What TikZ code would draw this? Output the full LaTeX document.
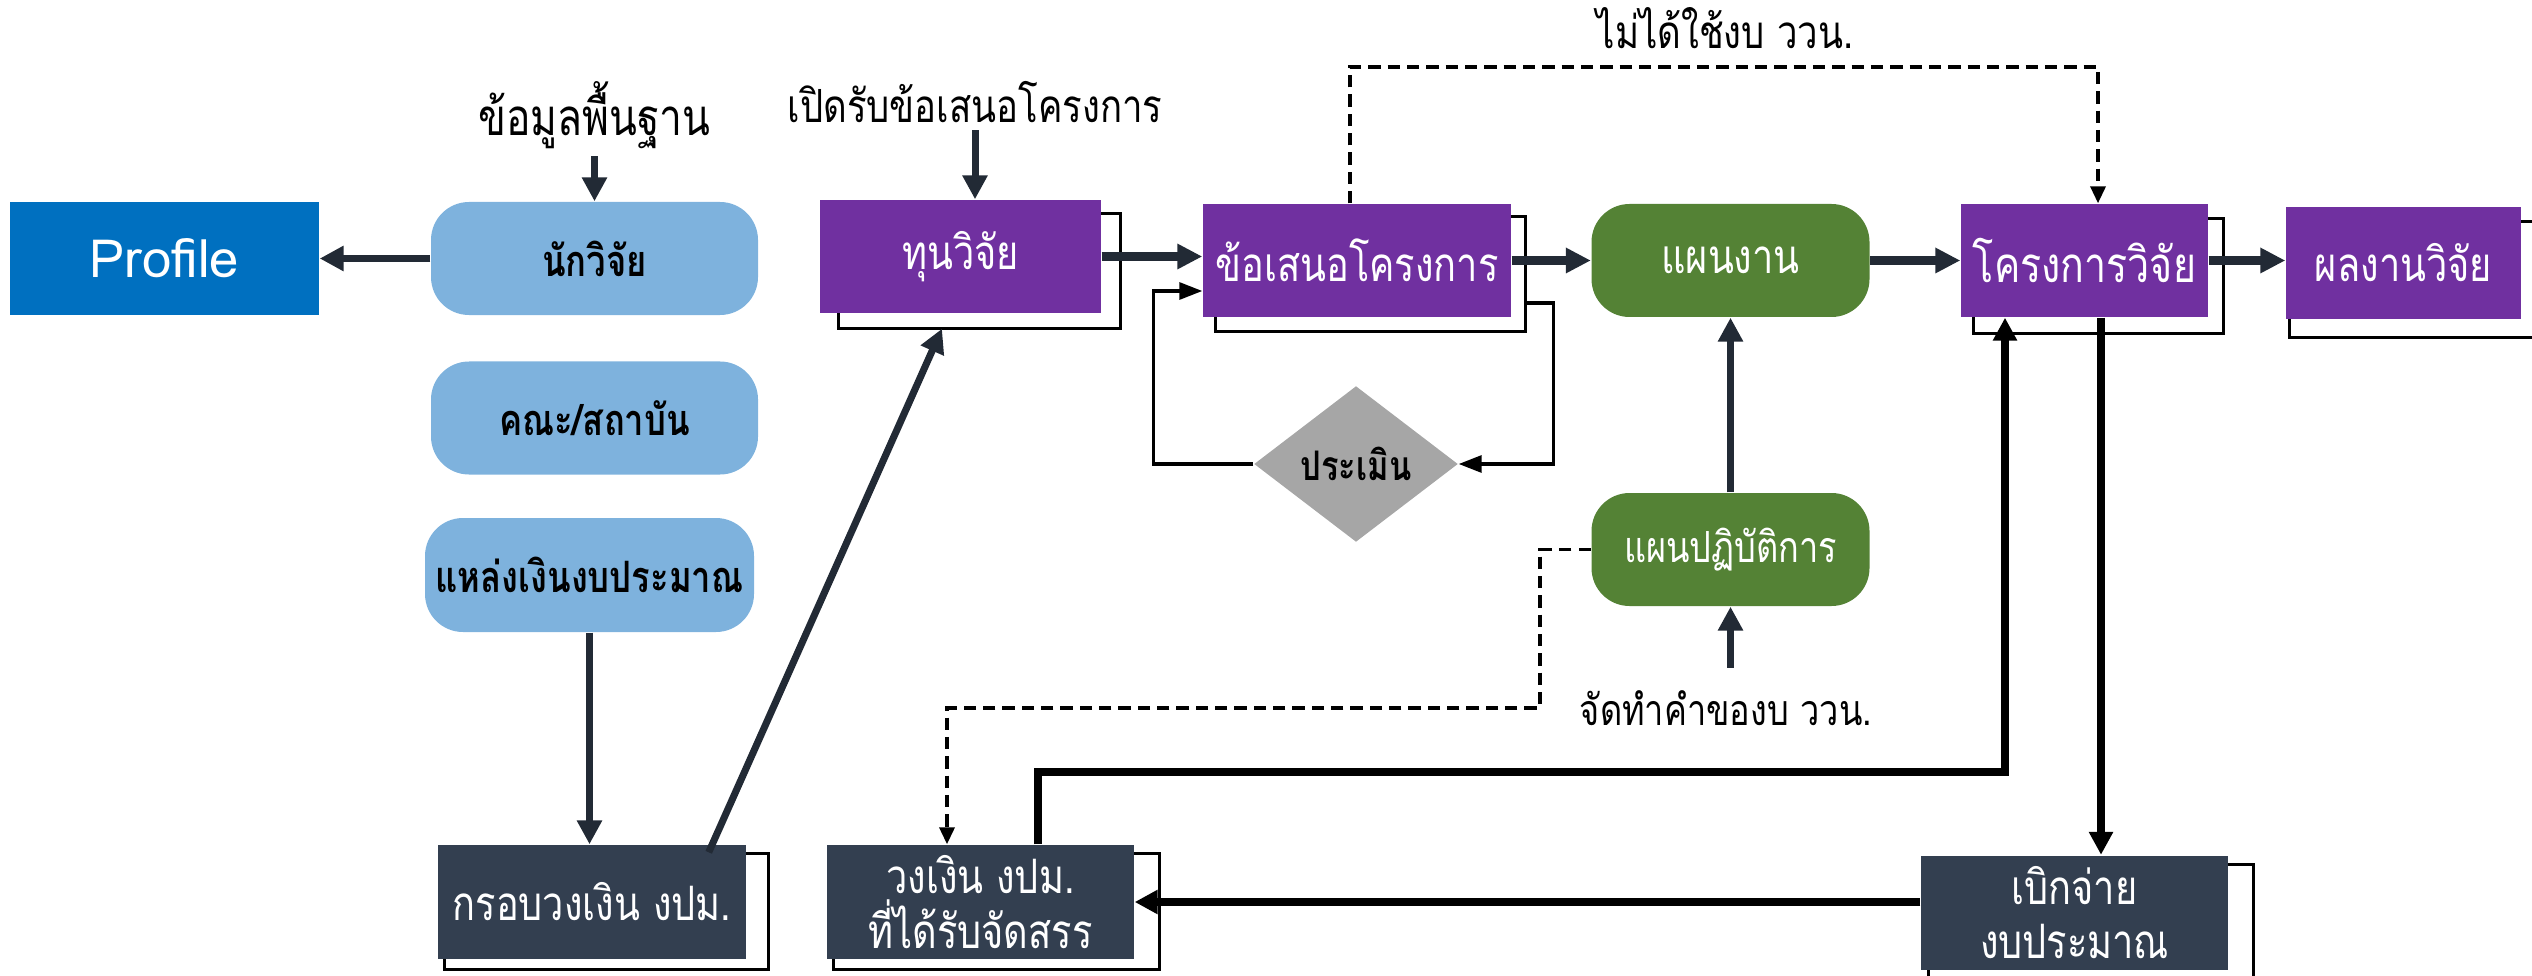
\documentclass[tikz,border=0pt]{standalone}
\usepackage{fontspec}
\setmainfont[Script=Thai, FakeStretch=0.8]{Loma}
\newfontfamily\latinfont{Loma}
\usetikzlibrary{arrows.meta,shapes.geometric,backgrounds}
\definecolor{profblue}{HTML}{0070C0}
\definecolor{skyblue}{HTML}{7EB2DD}
\definecolor{grape}{HTML}{7030A0}
\definecolor{leaf}{HTML}{548235}
\definecolor{slate}{HTML}{333F50}
\definecolor{stone}{HTML}{A6A6A6}
\definecolor{ink}{HTML}{222A35}
\begin{document}
\begin{tikzpicture}[
        box/.style={rectangle, inner sep=0pt, text=white, minimum height=1.13cm, font=\fontsize{13.5}{15.5}\selectfont},
        sky/.style={box, fill=skyblue, rounded corners=0.38cm, text=black, minimum width=3.27cm, font=\bfseries\fontsize{12.3}{14}\selectfont},
        grapebox/.style={box, fill=grape},
        leafbox/.style={box, fill=leaf, rounded corners=0.38cm, minimum width=2.78cm},
        slatebox/.style={box, fill=slate, minimum height=1.14cm, align=center},
        lbl/.style={inner sep=2pt, font=\fontsize{13}{15}\selectfont},
        mainarrow/.style={-{Triangle[length=2.5mm,width=2.4mm]}, line width=2.4pt, draw=ink},
        sidearrow/.style={-{Triangle[length=2.4mm,width=2.4mm]}, line width=2pt, draw=ink},
        blackarrow/.style={-{Triangle[length=2.3mm,width=2.3mm]}, line width=2.3pt, draw=black},
        dashline/.style={-{Triangle[length=1.7mm,width=1.5mm]}, dash pattern=on 3.5pt off 2pt, line width=1pt},
        loopline/.style={-{Triangle[length=2.3mm,width=1.7mm]}, line width=0.9pt}
    ]
    \useasboundingbox (0, 0) rectangle (25.32, 9.75);

    \node[box, fill=profblue, minimum width=3.09cm, font=\latinfont\fontsize{15}{18}\selectfont] (profile) at (1.645, 7.165) {Profile};
    \node[sky] (researcher) at (5.945, 7.165) {นักวิจัย};
    \node[sky] (faculty) at (5.945, 5.57) {คณะ/สถาบัน};
    \node[sky, minimum width=3.29cm, minimum height=1.14cm] (source) at (5.895, 4.0) {แหล่งเงินงบประมาณ};
    \node[lbl, font=\fontsize{14.5}{16}\selectfont] (lbinfo) at (5.945, 8.6) {ข้อมูลพื้นฐาน};

    \node[slatebox, minimum width=3.08cm] (frame) at (5.92, 0.73) {กรอบวงเงิน งปม.};
    \node[slatebox, minimum width=3.07cm] (alloc) at (9.805, 0.73) {วงเงิน งปม.\\ที่ได้รับจัดสรร};
    \node[slatebox, minimum width=3.07cm] (pay) at (20.745, 0.625) {เบิกจ่าย\\งบประมาณ};

    \node[lbl] (lbopen) at (9.75, 8.73) {เปิดรับข้อเสนอโครงการ};
    \node[grapebox, minimum width=2.81cm] (fund) at (9.605, 7.185) {ทุนวิจัย};
    \node[grapebox, minimum width=3.08cm] (prop) at (13.57, 7.145) {ข้อเสนอโครงการ};
    \node[diamond, fill=stone, inner sep=0pt, minimum width=2.04cm, minimum height=1.56cm,
          font=\bfseries\fontsize{11.6}{13}\selectfont] (eval) at (13.56, 5.11) {ประเมิน};
    \node[leafbox] (plan) at (17.305, 7.145) {แผนงาน};
    \node[leafbox, font=\fontsize{12.2}{14}\selectfont] (opplan) at (17.305, 4.255) {แผนปฏิบัติการ};
    \node[lbl, font=\fontsize{12.2}{14}\selectfont] (lbreq) at (17.26, 2.67) {จัดทำคำของบ ววน.};
    \node[lbl] (lbskip) at (17.25, 9.47) {ไม่ได้ใช้งบ ววน.};
    \node[grapebox, minimum width=2.47cm, font=\fontsize{14}{16}\selectfont] (proj) at (20.845, 7.145) {โครงการวิจัย};
    \node[grapebox, minimum width=2.35cm, minimum height=1.12cm] (result) at (24.035, 7.12) {ผลงานวิจัย};

    \begin{scope}[on background layer]
        \foreach \n/\l/\r/\t/\b in {fund/0.19/0.19/0.14/0.15, prop/0.13/0.14/0.13/0.14,
                                   proj/0.13/0.15/0.15/0.16, result/0.04/0.5/0.15/0.18,
                                   frame/0.07/0.22/0.09/0.10, alloc/0.07/0.25/0.09/0.10,
                                   pay/0.08/0.25/0.10/0.2}{
            \draw[thick] ([shift={(\l,-\b)}]\n.south west) rectangle ([shift={(\r,-\t)}]\n.north east);
        }
    \end{scope}

    \draw[sidearrow] (lbinfo.south) to (researcher.north);
    \draw[sidearrow] (researcher.west) to (profile.east);
    \draw[sidearrow] (source.south) to (source.south |- frame.north);
    \draw[sidearrow] ([shift={(-0.38,-0.08)}]frame.north east) to ([shift={(-0.185,-0.15)}]fund.south);
    \draw[sidearrow] (lbopen.south) to (lbopen.south |- fund.north);
    \draw[sidearrow] (opplan.north) to (plan.south);
    \draw[sidearrow, shorten <=1.5mm] (opplan.south |- lbreq.north) to (opplan.south);

    \draw[mainarrow] (fund.east) to (fund.east -| prop.west);
    \draw[mainarrow] (prop.east) to (plan.west);
    \draw[mainarrow] (plan.east) to (proj.west);
    \draw[mainarrow] (proj.east) to (proj.east -| result.west);

    \draw[loopline] (eval.west) -- ++(-1.0, 0) |- ([yshift=-3.05mm]prop.west);
    \draw[loopline] ([shift={(0.14,-0.425)}]prop.east) -- ++(0.28, 0) |- (eval.east);

    \coordinate (dtop) at (13.5, 9.08);
    \coordinate (dlow) at (15.4, 2.67);
    \draw[dashline] (dtop |- prop.north) -- (dtop) -| ([xshift=1.35mm]proj.north);
    \draw[dashline] (opplan.west) -| (dlow) -| ([xshift=-3.35mm]alloc.north);

    \draw[blackarrow] ([xshift=5.75mm]alloc.north) -- ++(0, 0.72) -| ([xshift=-7.95mm]proj.south);
    \draw[blackarrow] ([xshift=1.65mm]proj.south) to ([xshift=1.65mm]proj.south |- pay.north);
    \draw[blackarrow] (pay.west |- alloc.east) to (alloc.east);
\end{tikzpicture}
\end{document}
